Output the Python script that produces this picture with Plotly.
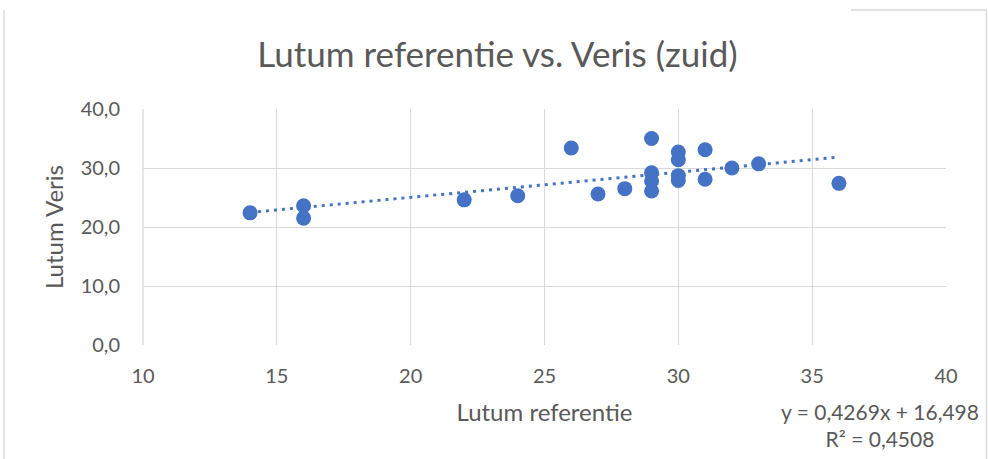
import plotly.graph_objects as go

# ---- data ----
lutum_referentie = [14, 16, 16, 22, 24, 26, 27, 28, 29, 29, 29, 29,
                    30, 30, 30, 30, 31, 31, 32, 33, 36]
lutum_veris = [22.4, 23.6, 21.5, 24.6, 25.3, 33.4, 25.6, 26.5, 35.0, 29.2, 27.8, 26.1,
               32.7, 31.4, 28.7, 27.9, 33.1, 28.1, 30.0, 30.7, 27.4]
trend_slope = 0.4269
trend_intercept = 16.498
trend_r2 = 0.4508
x_ticks = [10, 15, 20, 25, 30, 35, 40]
y_ticks = [0, 10, 20, 30, 40]

W, H = 988, 459
ML, MR, MT, MB = 143, 42, 109, 114
PW, PH = W - ML - MR, H - MT - MB

def px_x(px):
    return (px - ML) / PW

def px_y(py):
    return (H - MB - py) / PH

FONT = "Lato"
GRAY = "#595959"
BLUE = "#4472C4"
GRID = "#D9D9D9"

x0, x1 = min(lutum_referentie), max(lutum_referentie)
trend_x = [x0, x1]
trend_y = [trend_slope * v + trend_intercept for v in trend_x]

fig = go.Figure()
fig.add_trace(go.Scatter(
    x=trend_x, y=trend_y, mode="lines",
    line=dict(color=BLUE, width=3, dash="3px,5px"),
    hoverinfo="skip", showlegend=False))
fig.add_trace(go.Scatter(
    x=lutum_referentie, y=lutum_veris, mode="markers",
    marker=dict(color=BLUE, size=15, line=dict(width=0)),
    showlegend=False))

fig.update_layout(
    width=W, height=H,
    margin=dict(l=ML, r=MR, t=MT, b=MB, pad=0),
    paper_bgcolor="white", plot_bgcolor="white",
    separators=",.",
    font=dict(family=FONT, color=GRAY, size=20),
    title=dict(text="Lutum referentie vs. Veris (zuid)",
               x=497.5 / W, xref="container", xanchor="center",
               y=1 - 55 / H, yref="container", yanchor="middle",
               font=dict(size=35, color=GRAY, family=FONT)),
    xaxis=dict(range=[10, 40], tickvals=x_ticks, showgrid=True, gridcolor=GRID,
               gridwidth=1.3, zeroline=False, showline=False, ticks="",
               ticklabelstandoff=17, tickfont=dict(size=20, color=GRAY),
               title=dict(text="Lutum referentie", standoff=18,
                          font=dict(size=24, color=GRAY))),
    yaxis=dict(range=[0, 40], tickvals=y_ticks, tickformat=".1f", showgrid=True,
               gridcolor=GRID, gridwidth=1.3, zeroline=False, showline=False,
               ticks="", ticklabelstandoff=22, tickfont=dict(size=20, color=GRAY),
               title=dict(text="Lutum Veris", standoff=10,
                          font=dict(size=24, color=GRAY))),
    annotations=[dict(
        text=f"y = {str(trend_slope).replace('.', ',')}x + {str(trend_intercept).replace('.', ',')}"
             f"<br>R² = {str(trend_r2).replace('.', ',')}",
        xref="paper", yref="paper", x=px_x(880), y=px_y(425),
        xanchor="center", yanchor="middle", align="center", showarrow=False,
        font=dict(size=21, color=GRAY, family=FONT))],
    shapes=[
        dict(type="line", xref="paper", yref="paper", x0=px_x(4), x1=px_x(4),
             y0=px_y(10), y1=px_y(H), line=dict(color=GRID, width=1.5)),
        dict(type="line", xref="paper", yref="paper", x0=px_x(851), x1=px_x(986.5),
             y0=px_y(10), y1=px_y(10), line=dict(color=GRID, width=1.5)),
        dict(type="line", xref="paper", yref="paper", x0=px_x(986.5), x1=px_x(986.5),
             y0=px_y(10), y1=px_y(H), line=dict(color=GRID, width=1.5)),
        dict(type="line", xref="paper", yref="paper", x0=0, x1=0, y0=0, y1=1,
             line=dict(color=GRID, width=1.3), layer="below"),
    ],
)

fig.write_html("out.html", config={"displayModeBar": False},
               post_script="document.body.style.margin='0';document.body.style.overflow='hidden';")
